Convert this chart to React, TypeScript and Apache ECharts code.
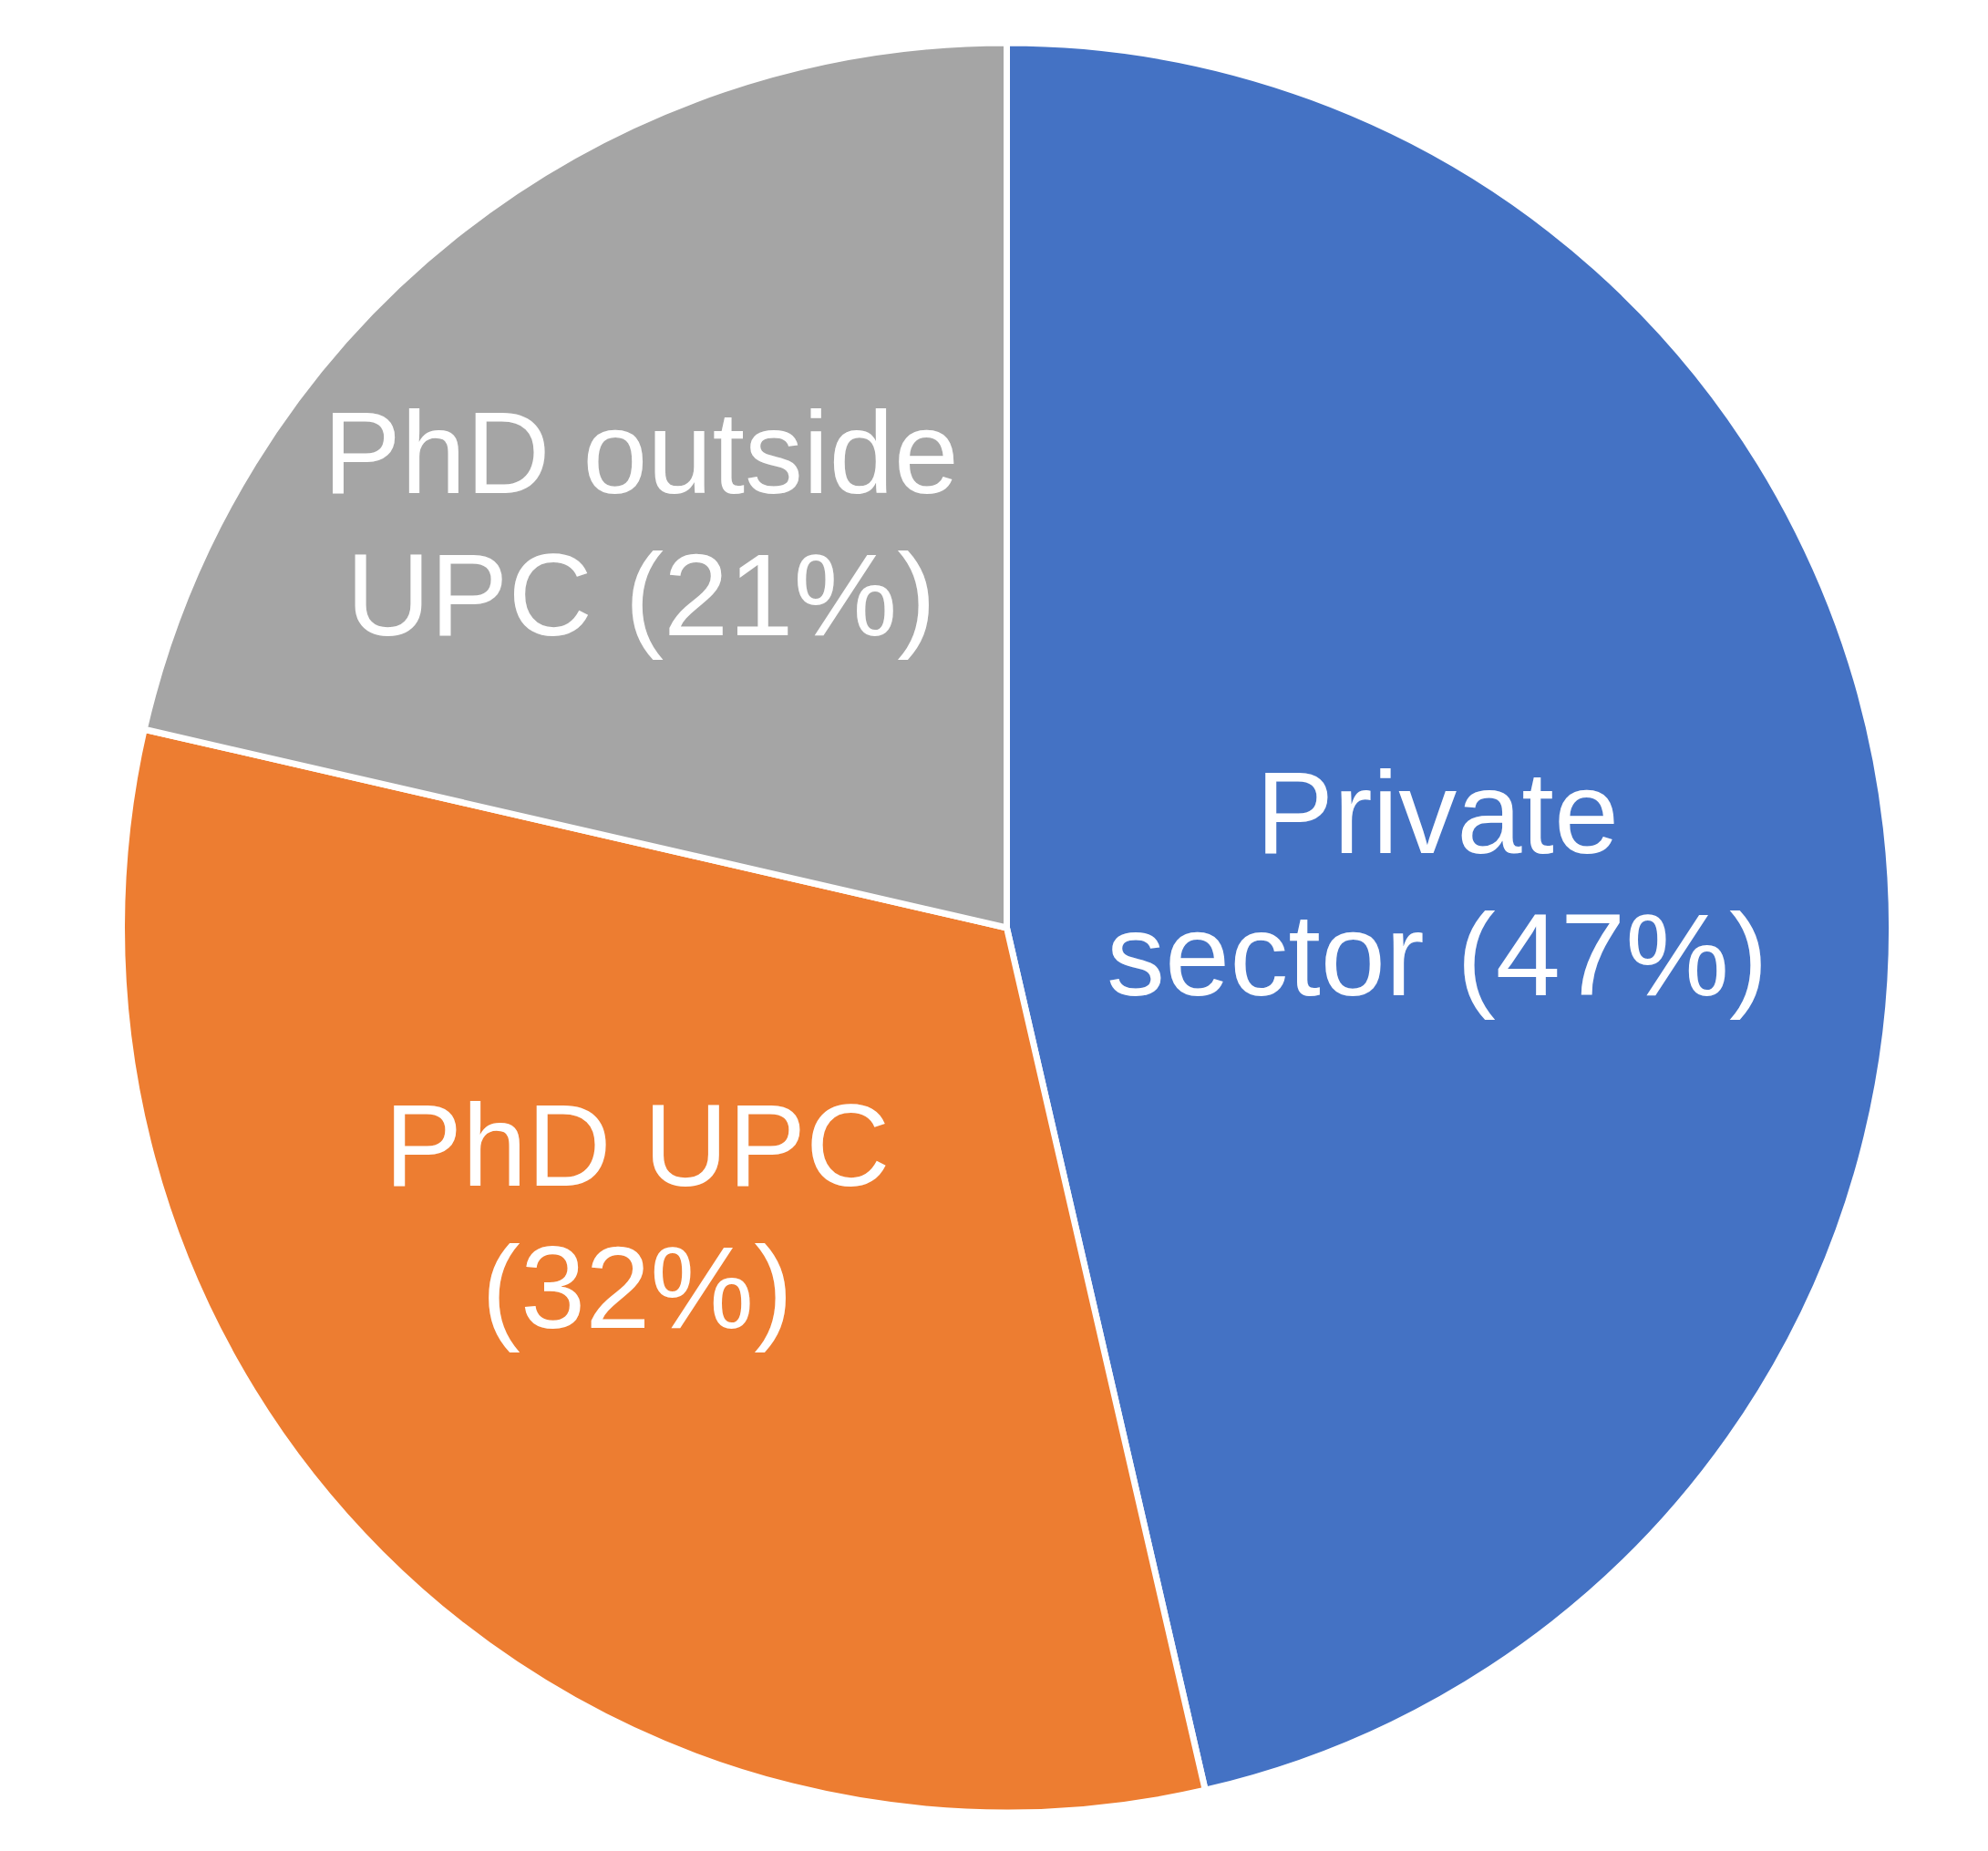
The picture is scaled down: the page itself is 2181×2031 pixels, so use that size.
import React, { useEffect, useRef } from "react";
import * as echarts from "echarts";

// Slice names and shares
const categories = ["Private sector", "PhD UPC", "PhD outside UPC"];
const values = [46.4, 32.2, 21.4];
// Label texts as printed on the chart
const labelTexts = ["Private\nsector (47%)", "PhD UPC\n(32%)", "PhD outside\nUPC (21%)"];
const colors = ["#4472C4", "#ED7D31", "#A5A5A5"];

// Small label nudges away from the default "inside" position
const labelNudgeX = [-13, -60, -97];
const labelNudgeY = [7, -29, -61];

export default function App() {
  const ref = useRef<HTMLDivElement>(null);

  useEffect(() => {
    document.body.style.margin = "0";
    if (!ref.current) return;
    const chart = echarts.init(ref.current, undefined, { renderer: "svg" });
    chart.setOption({
      animation: false,
      backgroundColor: "#ffffff",
      series: [
        {
          type: "pie",
          center: [1104.5, 1018],
          radius: 971,
          startAngle: 90,
          clockwise: true,
          avoidLabelOverlap: false,
          emphasis: { disabled: true },
          itemStyle: { borderColor: "#ffffff", borderWidth: 7 },
          label: {
            show: true,
            position: "inside",
            color: "#ffffff",
            fontFamily: "'Liberation Sans', Arial, sans-serif",
            fontSize: 128,
            lineHeight: 156,
            align: "center",
            formatter: (p: any) => labelTexts[p.dataIndex],
          },
          labelLine: { show: false },
          labelLayout: (p: any) => ({
            dx: labelNudgeX[p.dataIndex],
            dy: labelNudgeY[p.dataIndex],
          }),
          data: categories.map((name, i) => ({
            name,
            value: values[i],
            itemStyle: { color: colors[i] },
          })),
        },
      ],
    });
    return () => chart.dispose();
  }, []);

  return (
    <div
      ref={ref}
      style={{ position: "absolute", left: 0, top: 0, width: 2181, height: 2031 }}
    />
  );
}
